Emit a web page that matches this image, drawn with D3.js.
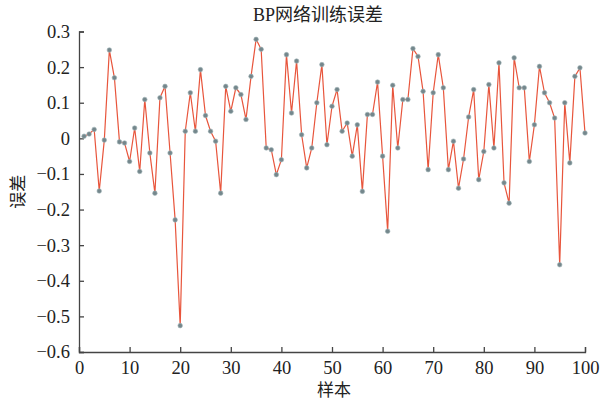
<!DOCTYPE html>
<html>
<head>
<meta charset="utf-8">
<script src="https://cdn.jsdelivr.net/npm/d3@7"></script>
<style>
  html, body { margin: 0; padding: 0; background: #fff; }
  svg { display: block; }
  .axis text { font-family: "Liberation Serif", "Times New Roman", serif; font-size: 18.5px; fill: #222; }
  .axis path, .axis line { stroke: #444; stroke-width: 1.3; }
  .lbl { font-family: "Liberation Serif", "Noto Sans CJK SC", serif; fill: #222; }
</style>
</head>
<body>
<svg id="chart" width="612" height="405"></svg>
<script>
// Training error of the BP network for each of the 100 samples
const samples = d3.range(1, 101);
const errors = [
  0.006, 0.012, 0.025, -0.148, -0.005, 0.248, 0.170, -0.010, -0.013, -0.065,
  0.029, -0.093, 0.109, -0.041, -0.154, 0.114, 0.146, -0.041, -0.229, -0.526,
  0.020, 0.128, 0.020, 0.193, 0.064, 0.020, -0.008, -0.154, 0.146, 0.076,
  0.142, 0.123, 0.053, 0.174, 0.278, 0.250, -0.027, -0.032, -0.102, -0.060,
  0.235, 0.071, 0.217, 0.010, -0.083, -0.027, 0.100, 0.207, -0.018, 0.090,
  0.137, 0.020, 0.043, -0.050, 0.038, -0.149, 0.067, 0.067, 0.158, -0.050,
  -0.261, 0.149, -0.027, 0.109, 0.109, 0.252, 0.230, 0.132, -0.088, 0.128,
  0.235, 0.142, -0.088, -0.008, -0.140, -0.058, 0.060, 0.137, -0.116, -0.037,
  0.151, -0.027, 0.212, -0.125, -0.182, 0.226, 0.142, 0.142, -0.065, 0.038,
  0.202, 0.128, 0.100, 0.057, -0.355, 0.100, -0.069, 0.174, 0.198, 0.015
];
const xTicks = [0, 10, 20, 30, 40, 50, 60, 70, 80, 90, 100];
const yTicks = [-0.6, -0.5, -0.4, -0.3, -0.2, -0.1, 0, 0.1, 0.2, 0.3];
const titleText = "BP网络训练误差";
const xLabel = "样本";
const yLabel = "误差";

const svg = d3.select("#chart");
const plotLeft = 79, plotRight = 585, plotTop = 31.5, plotBottom = 352;

const x = d3.scaleLinear().domain([0, 100]).range([plotLeft, plotRight]);
const y = d3.scaleLinear().domain([-0.6, 0.3]).range([plotBottom, plotTop]);

const fmt = v => {
  if (Math.abs(v) < 1e-9) return "0";
  const s = d3.format(".1f")(Math.abs(v));
  return (v < 0 ? "\u2212" : "") + s;
};

// Axes: ticks point inward
svg.append("g").attr("class", "axis")
  .attr("transform", `translate(0,${plotBottom})`)
  .call(d3.axisBottom(x).tickValues(xTicks).tickSize(-5).tickPadding(9).tickFormat(d3.format("d")))
  .call(g => g.selectAll("text").attr("dy", "0.71em"));

svg.append("g").attr("class", "axis")
  .attr("transform", `translate(${plotLeft},0)`)
  .call(d3.axisLeft(y).tickValues(yTicks).tickSize(-5).tickPadding(9).tickFormat(fmt));

// Error curve
const line = d3.line().x((d, i) => x(samples[i])).y(d => y(d));
svg.append("path")
  .datum(errors)
  .attr("fill", "none")
  .attr("stroke", "#e8553c")
  .attr("stroke-width", 1.2)
  .attr("d", line);

svg.append("g").selectAll("circle")
  .data(errors)
  .join("circle")
  .attr("cx", (d, i) => x(samples[i]))
  .attr("cy", d => y(d))
  .attr("r", 2.3)
  .attr("fill", "#74878c")
  .attr("stroke", "#a3b5b9")
  .attr("stroke-width", 0.6);

// Title and axis labels
svg.append("text").attr("class", "lbl")
  .attr("x", 253).attr("y", 21)
  .attr("font-size", 18)
  .text(titleText);

svg.append("text").attr("class", "lbl")
  .attr("x", (plotLeft + plotRight) / 2 + 2).attr("y", 396)
  .attr("text-anchor", "middle")
  .attr("font-size", 17)
  .text(xLabel);

svg.append("text").attr("class", "lbl")
  .attr("transform", `translate(24,${(plotTop + plotBottom) / 2}) rotate(-90)`)
  .attr("text-anchor", "middle")
  .attr("font-size", 17)
  .text(yLabel);
</script>
</body>
</html>
